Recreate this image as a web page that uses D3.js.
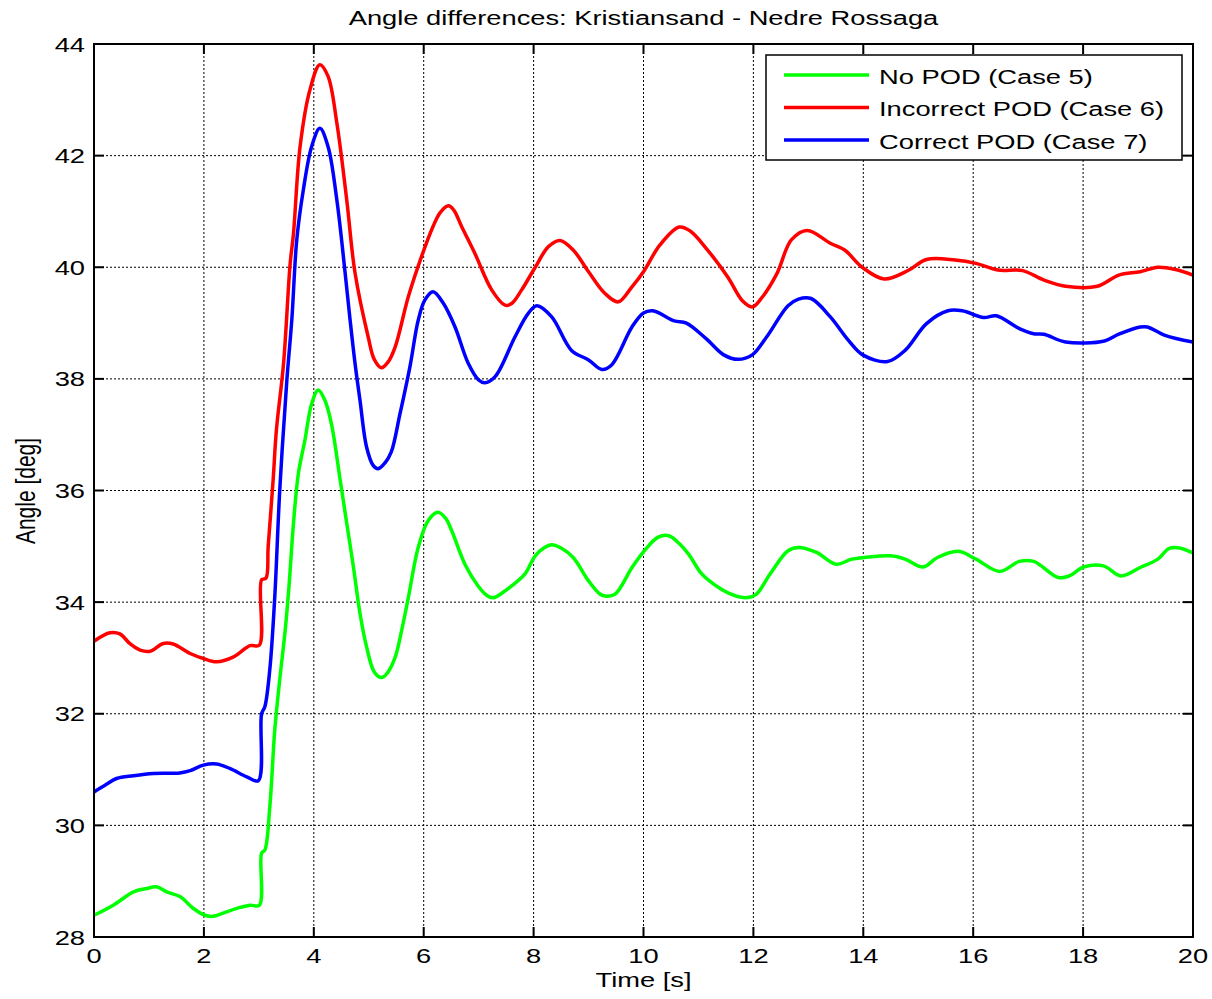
<!DOCTYPE html>
<html>
<head>
<meta charset="utf-8">
<script src="https://cdn.jsdelivr.net/npm/d3@7"></script>
<style>
  body { margin: 0; background: #fff; }
  text { font-family: "Liberation Sans", Arial, sans-serif; fill: #000; }
</style>
</head>
<body>
<div id="vis"></div>
<script>
// values: [time (s), angle (deg)]
var noPod = [[0,28.39],[0.35,28.57],[0.72,28.81],[0.96,28.87],[1.14,28.9],[1.32,28.81],[1.57,28.72],[1.81,28.51],
  [2.02,28.39],[2.17,28.37],[2.41,28.45],[2.66,28.53],[2.84,28.57],[3.01,28.57],[3.05,29.5],[3.11,29.56],[3.2,30.34],
  [3.29,31.71],[3.38,32.61],[3.48,33.5],[3.55,34.3],[3.63,35.41],[3.72,36.31],[3.84,36.91],[3.96,37.55],[4.08,37.8],
  [4.2,37.62],[4.32,37.2],[4.48,36.19],[4.6,35.41],[4.72,34.64],[4.84,33.8],[4.96,33.2],[5.1,32.75],[5.23,32.65],
  [5.33,32.72],[5.48,33.01],[5.6,33.5],[5.72,34.08],[5.9,34.98],[6.08,35.46],[6.26,35.61],[6.4,35.5],[6.51,35.28],
  [6.75,34.68],[6.99,34.29],[7.15,34.12],[7.27,34.08],[7.45,34.18],[7.6,34.29],[7.84,34.5],[8.03,34.83],[8.2,34.98],
  [8.33,35.03],[8.5,34.97],[8.72,34.8],[9.0,34.38],[9.2,34.15],[9.3,34.11],[9.48,34.14],[9.79,34.62],[10.0,34.9],
  [10.26,35.16],[10.46,35.19],[10.65,35.05],[10.82,34.86],[11.04,34.53],[11.2,34.38],[11.53,34.17],[11.85,34.08],
  [12.05,34.14],[12.3,34.5],[12.63,34.92],[12.82,34.98],[13.15,34.89],[13.5,34.68],[13.79,34.77],[14.02,34.8],
  [14.5,34.83],[14.76,34.77],[15.09,34.63],[15.35,34.8],[15.73,34.91],[16.05,34.77],[16.48,34.55],[16.84,34.73],
  [17.1,34.73],[17.55,34.44],[17.75,34.47],[18.01,34.63],[18.37,34.65],[18.69,34.47],[19.04,34.62],[19.36,34.77],
  [19.56,34.96],[19.75,34.97],[20,34.88]];

var incorrectPod = [[0,33.3],[0.29,33.45],[0.47,33.43],[0.66,33.25],[0.84,33.14],[1.02,33.12],[1.26,33.26],[1.44,33.25],
  [1.75,33.08],[1.99,32.99],[2.23,32.93],[2.54,33.02],[2.84,33.22],[3.01,33.23],[3.05,34.4],[3.13,34.43],[3.17,35.0],
  [3.26,36.19],[3.32,37.09],[3.45,38.28],[3.57,40.07],[3.63,40.6],[3.75,42.16],[3.93,43.18],[4.11,43.63],[4.26,43.42],
  [4.42,42.58],[4.6,41.2],[4.75,39.9],[4.99,38.75],[5.1,38.35],[5.23,38.2],[5.35,38.3],[5.48,38.57],[5.72,39.47],
  [5.96,40.19],[6.17,40.73],[6.3,40.98],[6.45,41.1],[6.55,41.02],[6.69,40.73],[6.93,40.25],[7.24,39.59],[7.48,39.32],
  [7.6,39.35],[7.78,39.59],[8.03,40.0],[8.27,40.37],[8.48,40.48],[8.72,40.31],[9.0,39.92],[9.3,39.53],[9.54,39.38],
  [9.79,39.65],[10.0,39.92],[10.3,40.4],[10.65,40.72],[10.85,40.65],[11.14,40.34],[11.53,39.83],[11.8,39.4],
  [11.98,39.29],[12.15,39.45],[12.43,39.89],[12.69,40.49],[12.98,40.66],[13.4,40.43],[13.66,40.31],[13.98,40.0],
  [14.38,39.79],[14.83,39.95],[15.15,40.14],[15.67,40.13],[16.05,40.07],[16.45,39.95],[16.9,39.94],[17.29,39.77],
  [17.68,39.66],[18.26,39.66],[18.65,39.86],[19.04,39.92],[19.36,40.0],[19.68,39.96],[20,39.86]];

var correctPod = [[0,30.6],[0.2,30.72],[0.41,30.84],[0.72,30.89],[1.08,30.93],[1.56,30.94],[1.75,30.98],[1.99,31.08],
  [2.23,31.1],[2.47,31.02],[2.78,30.87],[2.99,30.8],[3.05,32.0],[3.11,32.13],[3.2,32.8],[3.29,34.1],[3.38,36.0],
  [3.51,37.98],[3.6,39.06],[3.69,40.49],[3.81,41.39],[3.96,42.16],[4.11,42.49],[4.26,42.16],[4.42,41.2],[4.57,39.9],
  [4.66,39.06],[4.75,38.28],[4.84,37.62],[4.96,36.78],[5.08,36.45],[5.17,36.39],[5.3,36.5],[5.41,36.69],[5.57,37.38],
  [5.75,38.22],[5.9,39.05],[6.02,39.41],[6.17,39.56],[6.36,39.35],[6.57,38.93],[6.81,38.28],[7.0,37.98],[7.11,37.93],
  [7.3,38.04],[7.66,38.75],[7.9,39.17],[8.06,39.31],[8.33,39.11],[8.69,38.51],[9.0,38.34],[9.24,38.17],[9.42,38.25],
  [9.79,38.93],[10.0,39.18],[10.17,39.22],[10.56,39.04],[10.78,39.0],[11.14,38.72],[11.46,38.43],[11.72,38.35],
  [11.98,38.43],[12.24,38.75],[12.63,39.31],[12.82,39.43],[13.05,39.44],[13.4,39.11],[13.73,38.69],[13.99,38.43],
  [14.44,38.31],[14.76,38.51],[15.15,38.99],[15.54,39.22],[15.8,39.22],[16.19,39.1],[16.42,39.13],[16.84,38.9],
  [17.1,38.81],[17.29,38.8],[17.68,38.66],[18.39,38.68],[18.65,38.8],[19.04,38.93],[19.17,38.93],[19.49,38.78],
  [20,38.66]];

var seriesNames = ["No POD (Case 5)", "Incorrect POD (Case 6)", "Correct POD (Case 7)"];
var seriesColors = ["#00ff00", "#ff0000", "#0000ff"];
var xTicks = [0, 2, 4, 6, 8, 10, 12, 14, 16, 18, 20];
var yTicks = [28, 30, 32, 34, 36, 38, 40, 42, 44];

var width = 1212, height = 999;
var margin = { top: 44, left: 94, bottom: 62, right: 19 };
var plotW = width - margin.left - margin.right;   // 1099
var plotH = height - margin.top - margin.bottom;  // 893
var stretch = 1.3;  // text in the picture is wider than it is tall

var x = d3.scaleLinear().domain([0, 20]).range([0, plotW]);
var y = d3.scaleLinear().domain([28, 44]).range([plotH, 0]);

var svg = d3.select('#vis').append('svg')
  .attr('width', width)
  .attr('height', height);

// helper for horizontally stretched text
function label(parent, tx, ty, str, anchor, size, rot) {
  return parent.append('text')
    .attr('transform', 'translate(' + tx + ',' + ty + ') scale(' + stretch + ',1)' + (rot ? ' rotate(' + rot + ')' : ''))
    .attr('text-anchor', anchor)
    .style('font-size', size + 'px')
    .text(str);
}

var g = svg.append('g')
  .attr('transform', 'translate(' + margin.left + ',' + margin.top + ')');

g.append('clipPath').attr('id', 'clip')
  .append('rect').attr('width', plotW).attr('height', plotH);

// dotted grid
g.selectAll('.vgrid').data(xTicks.slice(1, -1)).enter().append('line')
  .attr('x1', function(d) { return x(d); }).attr('x2', function(d) { return x(d); })
  .attr('y1', 0).attr('y2', plotH)
  .attr('stroke', '#000').attr('stroke-width', 1).attr('stroke-dasharray', '2,2');
g.selectAll('.hgrid').data(yTicks.slice(1, -1)).enter().append('line')
  .attr('y1', function(d) { return y(d); }).attr('y2', function(d) { return y(d); })
  .attr('x1', 0).attr('x2', plotW)
  .attr('stroke', '#000').attr('stroke-width', 1).attr('stroke-dasharray', '2,2');

// curves
var line = d3.line()
  .x(function(d) { return x(d[0]); })
  .y(function(d) { return y(d[1]); })
  .curve(d3.curveCatmullRom.alpha(0.5));

var allSeries = [noPod, incorrectPod, correctPod];
g.append('g').attr('clip-path', 'url(#clip)')
  .selectAll('path').data(allSeries).enter().append('path')
  .attr('fill', 'none')
  .attr('stroke', function(d, i) { return seriesColors[i]; })
  .attr('stroke-width', 3.5)
  .attr('stroke-linejoin', 'round')
  .attr('d', line);

// axes box with inward ticks on all sides
var tickLen = 10;
g.append('rect')
  .attr('width', plotW).attr('height', plotH)
  .attr('fill', 'none').attr('stroke', '#000').attr('stroke-width', 2);

xTicks.forEach(function(t) {
  g.append('line').attr('x1', x(t)).attr('x2', x(t)).attr('y1', plotH).attr('y2', plotH - tickLen)
    .attr('stroke', '#000').attr('stroke-width', 2);
  g.append('line').attr('x1', x(t)).attr('x2', x(t)).attr('y1', 0).attr('y2', tickLen)
    .attr('stroke', '#000').attr('stroke-width', 2);
  label(g, x(t), plotH + 26, t, 'middle', 21);
});
yTicks.forEach(function(v) {
  g.append('line').attr('x1', 0).attr('x2', tickLen).attr('y1', y(v)).attr('y2', y(v))
    .attr('stroke', '#000').attr('stroke-width', 2);
  g.append('line').attr('x1', plotW).attr('x2', plotW - tickLen).attr('y1', y(v)).attr('y2', y(v))
    .attr('stroke', '#000').attr('stroke-width', 2);
  label(g, -9, y(v) + 7.5, v, 'end', 21);
});

// titles
label(svg, margin.left + plotW / 2, 25, 'Angle differences: Kristiansand - Nedre Rossaga', 'middle', 21);
label(svg, margin.left + plotW / 2, 987, 'Time [s]', 'middle', 21);
label(svg, 35, 491, 'Angle [deg]', 'middle', 21, -90);

// legend
var legend = svg.append('g').attr('transform', 'translate(766,55)');
legend.append('rect')
  .attr('width', 416).attr('height', 105)
  .attr('fill', '#fff').attr('stroke', '#000').attr('stroke-width', 1.5);
seriesNames.forEach(function(name, i) {
  var ly = 20 + i * 32.5;
  legend.append('line')
    .attr('x1', 18).attr('x2', 103).attr('y1', ly).attr('y2', ly)
    .attr('stroke', seriesColors[i]).attr('stroke-width', 3.5);
  label(legend, 113, ly + 8.5, name, 'start', 21);
});
</script>
</body>
</html>
